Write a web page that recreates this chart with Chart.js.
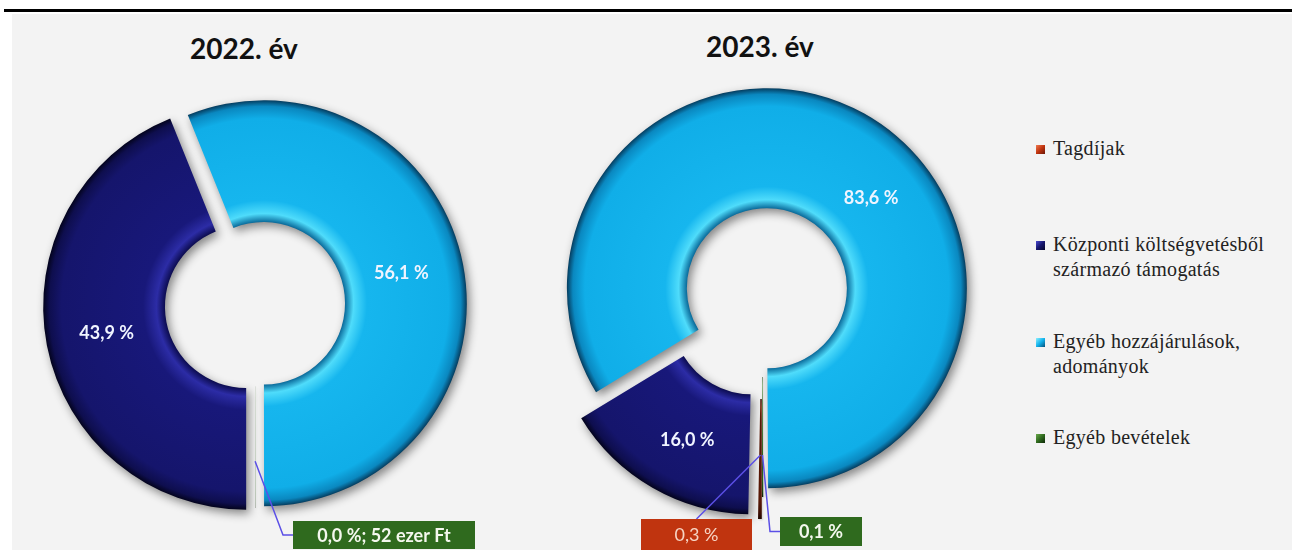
<!DOCTYPE html>
<html>
<head>
<meta charset="utf-8">
<script src="https://cdn.jsdelivr.net/npm/chart.js@4.4.1/dist/chart.umd.min.js"></script>
<style>
html,body{margin:0;padding:0;background:#fff;width:1292px;height:550px;overflow:hidden;position:relative;}
#rule{position:absolute;left:4px;top:9px;width:1288px;height:3px;background:#000;}
#panel{position:absolute;left:12px;top:14px;width:1280px;height:536px;background:#f3f3f3;}
.title{position:absolute;font-family:Lato,sans-serif;font-weight:700;font-size:28px;line-height:34px;color:#111;white-space:nowrap;transform:translateX(-50%);}
#cA{position:absolute;left:12px;top:14px;}
#cB{position:absolute;left:502px;top:14px;}
#legend{position:absolute;left:1036px;top:0;width:250px;height:550px;font-family:'Liberation Serif',serif;font-size:20px;color:#222;letter-spacing:0.3px;}
.item{position:absolute;left:0;white-space:nowrap;line-height:25px;}
.mk{position:absolute;left:0;top:9px;width:9px;height:9px;}
.txt{position:absolute;left:17px;top:0;}
</style>
</head>
<body>
<div id="rule"></div>
<div id="panel"></div>
<div class="title" id="tA" style="left:244px;top:31px;"></div>
<div class="title" id="tB" style="left:760px;top:29px;"></div>
<canvas id="cA" width="490" height="536"></canvas>
<canvas id="cB" width="520" height="536"></canvas>
<div id="legend"></div>
<script>
// ---------- data ----------
const categories = ['Tagdíjak', 'Központi költségvetésből származó támogatás', 'Egyéb hozzájárulások, adományok', 'Egyéb bevételek'];
const legendLines = [['Tagdíjak'], ['Központi költségvetésből', 'származó támogatás'], ['Egyéb hozzájárulások,', 'adományok'], ['Egyéb bevételek']];
const titles = ['2022. év', '2023. év'];
const values2022 = [0, 43.9, 56.1, 0.02];
const values2023 = [0.3, 16.0, 83.6, 0.1];
const calloutExtra2022 = ['', '', '', '52 ezer Ft'];
const calloutExtra2023 = ['', '', '', ''];

// ---------- styles ----------
const seriesColors = ['#C0340F', '#16166E', '#12B2EC', '#2F6A1E'];
const BEVEL_POS = [0, 0.07, 0.18, 0.85, 0.95, 1];
const BEVEL = [
  ['#3a0c02', '#7a2408', '#5a1806', '#5a1806', '#3e0e02', '#200600'],
  ['#0c0c50', '#2c2ca6', '#18187a', '#15156c', '#0e0e4e', '#03031c'],
  ['#0a6a9a', '#4fdcfb', '#16b6ee', '#10aee8', '#0a88c0', '#053c5e'],
  ['#163a0c', '#4a8a30', '#2f6a1e', '#2a601a', '#1c4410', '#0a1e04']
];
const legendGrad = [
  'linear-gradient(135deg,#f07a50,#c0340f 50%,#6a1606)',
  'linear-gradient(135deg,#4a4ad0,#16166e 50%,#05052a)',
  'linear-gradient(135deg,#8ef0ff,#12b2ec 50%,#05507a)',
  'linear-gradient(135deg,#6aa84a,#2f6a1e 50%,#0e2808)'
];

function fmt(v) { return v.toFixed(1).replace('.', ',') + ' %'; }

function makeDecor(cfg) {
  return {
    id: 'decor',
    beforeDatasetsDraw(chart) {
      const meta = chart.getDatasetMeta(0);
      meta.data.forEach((el, i) => {
        if (el.$wrapped) return;
        const base = Object.getPrototypeOf(el).draw;
        el.draw = function (ctx) {
          const d = cfg.explode[i] || 0;
          const a = (this.startAngle + this.endAngle) / 2;
          ctx.save();
          ctx.translate(Math.cos(a) * d, Math.sin(a) * d);
          const g = ctx.createRadialGradient(this.x, this.y, this.innerRadius, this.x, this.y, this.outerRadius);
          BEVEL_POS.forEach((p, k) => g.addColorStop(p, BEVEL[i][k]));
          if (Object.isFrozen(this.options)) this.options = Object.assign({}, this.options);
          this.options.backgroundColor = g;
          const thin = (this.endAngle - this.startAngle) < 0.05;
          ctx.shadowColor = thin ? 'rgba(0,0,0,0.15)' : 'rgba(0,0,0,0.45)';
          ctx.shadowBlur = thin ? 2 : 10;
          ctx.shadowOffsetX = thin ? 1 : 3;
          ctx.shadowOffsetY = thin ? 1 : 4;
          base.call(this, ctx);
          ctx.restore();
        };
        el.$wrapped = true;
      });
    },
    afterDatasetsDraw(chart) {
      const ctx = chart.ctx;
      const meta = chart.getDatasetMeta(0);
      const vals = chart.data.datasets[0].data;
      meta.data.forEach((el, i) => {
        const v = vals[i];
        const a = (el.startAngle + el.endAngle) / 2;
        const d = cfg.explode[i] || 0;
        if (v >= 1) {
          const r = (el.innerRadius + el.outerRadius) / 2 + d;
          const n = cfg.nudge[i] || [0, 0];
          ctx.save();
          ctx.font = 'bold 18px Lato';
          ctx.fillStyle = '#f0f4ff';
          ctx.textAlign = 'center';
          ctx.textBaseline = 'middle';
          ctx.fillText(fmt(v), el.x + Math.cos(a) * r + n[0], el.y + Math.sin(a) * r + n[1]);
          ctx.restore();
        } else if (v > 0 && cfg.callouts[i]) {
          const c = cfg.callouts[i];
          const b = c.box;
          const r = c.frac * el.outerRadius + d;
          const ax = el.x + Math.cos(a) * r, ay = el.y + Math.sin(a) * r;
          ctx.save();
          ctx.strokeStyle = '#5b4fe6';
          ctx.lineWidth = 1.5;
          ctx.beginPath();
          ctx.moveTo(ax, ay);
          if (c.attach === 'left') {
            const my = b[1] + b[3] / 2;
            ctx.lineTo(b[0] - 10, my);
            ctx.lineTo(b[0], my);
          } else {
            ctx.lineTo(b[0] + b[2] / 2, b[1]);
          }
          ctx.stroke();
          ctx.fillStyle = seriesColors[i];
          ctx.fillRect(b[0], b[1], b[2], b[3]);
          ctx.font = c.weight + ' 18px Lato';
          ctx.fillStyle = c.color;
          ctx.textAlign = 'center';
          ctx.textBaseline = 'middle';
          const txt = fmt(v) + (cfg.extra[i] ? '; ' + cfg.extra[i] : '');
          ctx.fillText(txt, b[0] + b[2] / 2, b[1] + b[3] / 2 + 1);
          ctx.restore();
        }
      });
    }
  };
}

function makeChart(id, values, opt, cfg) {
  return new Chart(document.getElementById(id), {
    type: 'doughnut',
    data: {
      labels: categories,
      datasets: [{ data: values, backgroundColor: seriesColors, borderWidth: 0, clip: false }]
    },
    options: {
      responsive: false,
      animation: false,
      events: [],
      rotation: 180,
      radius: opt.radius,
      cutout: opt.cutout,
      layout: { padding: opt.padding },
      plugins: { legend: { display: false }, tooltip: { enabled: false }, title: { display: false } }
    },
    plugins: [makeDecor(cfg)]
  });
}

document.getElementById('tA').textContent = titles[0];
document.getElementById('tB').textContent = titles[1];

makeChart('cA', values2022,
  { radius: 203, cutout: '40%', padding: { left: 0, right: 4, top: 46, bottom: 0 } },
  {
    explode: [0, 9, 9, 0],
    nudge: [null, [0, -1], [-2, -3], null],
    extra: calloutExtra2022,
    callouts: [null, null, null, { frac: 0.77, box: [281, 507, 182, 28], attach: 'left', weight: 'bold', color: '#f4f8ee' }]
  });

makeChart('cB', values2023,
  { radius: 200, cutout: '40%', padding: { left: 0, right: 0, top: 30, bottom: 0 } },
  {
    explode: [22, 20, 10, 0],
    nudge: [null, [5, 4], [36, 32], null],
    extra: calloutExtra2023,
    callouts: [
      { frac: 0.68, box: [139, 505, 111, 31], attach: 'top', weight: 'normal', color: '#f6d4c4' },
      null, null,
      { frac: 0.79, box: [278, 503, 82, 29], attach: 'left', weight: 'bold', color: '#f4f8ee' }
    ]
  });

// ---------- legend ----------
const legendTops = [136, 232, 329, 425];
const lg = document.getElementById('legend');
categories.forEach((c, i) => {
  const it = document.createElement('div');
  it.className = 'item';
  it.style.top = legendTops[i] + 'px';
  const mk = document.createElement('div');
  mk.className = 'mk';
  mk.style.background = legendGrad[i];
  const tx = document.createElement('div');
  tx.className = 'txt';
  tx.innerHTML = legendLines[i].join('<br>');
  it.appendChild(mk);
  it.appendChild(tx);
  lg.appendChild(it);
});
</script>
</body>
</html>
